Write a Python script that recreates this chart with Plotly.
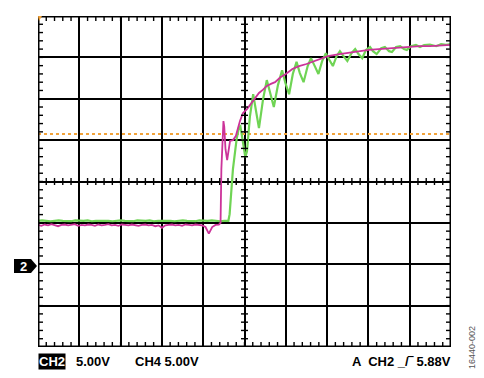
import numpy as np
import plotly.graph_objects as go

# ---- data (in screen divisions: x 0..10, y -4..4) ----
mag_flat_y = [-1.05,-1.07,-1.04,-1.06,-1.03,-1.06,-1.08,-1.05,-1.04,-1.06,
              -1.05,-1.03,-1.07,-1.05,-1.06,-1.04,-1.05,-1.07,-1.04,-1.06,
              -1.05,-1.03,-1.06,-1.05,-1.07,-1.04,-1.05,-1.06,-1.04,-1.05,
              -1.07,-1.05,-1.04,-1.06,-1.05,-1.08,-1.06,-1.12,-1.06,-1.05,
              -1.04,-1.06,-1.05,-1.07,-1.04,-1.05,-1.06,-1.04,-1.05,-1.06,
              -1.10,-1.26,-1.10,-1.05,-1.04]
mag_rise_x = [4.42,4.44,4.47,4.49,4.51,4.54,4.58,4.62,4.65,4.72,4.79,4.89,4.96,
              5.06,5.18,5.27,5.35,5.45,5.54,5.64,5.74,5.87,6.00,6.16,6.32,6.50,
              6.71,6.86,7.02,7.30,7.60,7.80,8.01,8.25,8.52,8.75,8.98,9.25,9.49,
              9.75,10.0]
mag_rise_y = [-1.00,0.30,1.15,1.46,1.32,0.78,0.52,0.78,0.98,1.00,1.10,1.46,1.65,
              1.75,1.92,2.02,2.14,2.22,2.31,2.36,2.40,2.52,2.60,2.72,2.79,2.84,
              2.91,2.96,3.03,3.08,3.13,3.15,3.18,3.20,3.22,3.24,3.25,3.27,3.27,
              3.29,3.30]

grn_flat_y = [-0.95,-0.94,-0.95,-0.96,-0.95,-0.94,-0.95,-0.95,-0.96,-0.94,
              -0.95,-0.95,-0.94,-0.96,-0.95,-0.95,-0.94,-0.95,-0.96,-0.95,
              -0.94,-0.95,-0.95,-0.96,-0.94,-0.95,-0.95,-0.94,-0.96,-0.95,
              -0.95,-0.94,-0.95,-0.96,-0.95,-0.94,-0.95,-0.95,-0.96,-0.94,
              -0.95,-0.95,-0.94,-0.95,-0.96,-0.95,-0.95]
grn_rise_x = [4.64,4.67,4.72,4.81,4.87,4.90,4.95,5.02,5.06,5.13,5.21,5.28,5.35,
              5.45,5.54,5.63,5.71,5.81,5.91,5.99,6.08,6.17,6.26,6.34,6.43,6.53,
              6.61,6.71,6.79,6.88,6.97,7.06,7.14,7.23,7.31,7.41,7.49,7.59,7.68,
              7.76,7.85,7.94,8.04,8.11,8.20,8.31,8.40,8.50,8.57,8.67,8.77,8.86,
              8.93,9.03,9.15,9.25,9.35,9.49,9.64,9.76,9.88,10.0]
grn_rise_y = [-0.79,-0.30,0.30,1.03,1.32,1.34,1.03,0.59,0.73,1.56,2.11,1.70,1.29,
              1.99,2.45,2.11,1.80,2.33,2.69,2.38,2.11,2.60,2.89,2.62,2.40,2.79,
              2.98,2.77,2.60,2.91,3.10,2.93,2.79,3.03,3.15,3.01,2.91,3.10,3.20,
              3.08,2.98,3.18,3.25,3.15,3.08,3.22,3.25,3.15,3.13,3.25,3.27,3.20,
              3.18,3.27,3.30,3.25,3.30,3.31,3.27,3.32,3.30,3.32]

trigger_level = 1.15

mag_x = list(np.linspace(0, 4.38, len(mag_flat_y))) + mag_rise_x
mag_y = mag_flat_y + mag_rise_y
grn_x = list(np.linspace(0, 4.61, len(grn_flat_y))) + grn_rise_x
grn_y = grn_flat_y + grn_rise_y

fig = go.Figure()
fig.add_trace(go.Scatter(x=[0, 10], y=[trigger_level, trigger_level], mode="lines",
                         line=dict(color="#f2a33a", width=2, dash="dot"),
                         hoverinfo="skip", showlegend=False))
fig.add_trace(go.Scatter(x=grn_x, y=grn_y, mode="lines",
                         line=dict(color="#6fd454", width=2.2),
                         showlegend=False))
fig.add_trace(go.Scatter(x=mag_x, y=mag_y, mode="lines",
                         line=dict(color="#cc3399", width=1.8),
                         showlegend=False))

# ---- graticule ticks ----
W, H = 413.0, 331.0
dxp = 10 / W   # div per pixel horizontally
dyp = 8 / H
tx, ty = [], []
L = 5
C = 3.5
for k in range(1, 50):
    xv = k * 0.2
    tx += [xv, xv, None, xv, xv, None, xv, xv, None]
    ty += [4, 4 - L * dyp, None, -4, -4 + L * dyp, None, -C * dyp, C * dyp, None]
for k in range(1, 40):
    yv = -4 + k * 0.2
    tx += [0, L * dxp, None, 10, 10 - L * dxp, None, 5 - C * dxp, 5 + C * dxp, None]
    ty += [yv, yv, None, yv, yv, None, yv, yv, None]
fig.add_trace(go.Scatter(x=tx, y=ty, mode="lines", line=dict(color="black", width=1.4),
                         hoverinfo="skip", showlegend=False))

def px(x):
    return (x - 38) / W

def py(y):
    return (347 - y) / H

shapes = [
    dict(type="rect", xref="x", yref="y", x0=0, x1=10, y0=-4, y1=4,
         line=dict(color="black", width=3), layer="above"),
    dict(type="path", xref="paper", yref="paper",
         path=f"M {px(14)},{py(259)} L {px(31)},{py(259)} L {px(37)},{py(266)} "
              f"L {px(31)},{py(273)} L {px(14)},{py(273)} Z",
         fillcolor="black", line=dict(width=0)),
    dict(type="path", xref="paper", yref="paper",
         path=f"M {px(38)},{py(16)} L {px(42)},{py(16)} L {px(39)},{py(21)} Z",
         fillcolor="#f2a33a", line=dict(width=0)),
]

fam = "Liberation Sans, Arial, sans-serif"
font = dict(family=fam, size=13, color="black")
base = dict(xref="paper", yref="paper", showarrow=False)
ann = [
    dict(x=px(23), y=py(266), text="<b>2</b>", font=dict(family=fam, size=13, color="white"),
         xanchor="center", yanchor="middle", **base),
    dict(x=px(38), y=py(361), text="<b>CH2</b>", font=dict(family=fam, size=13, color="white"),
         bgcolor="black", borderpad=0, xanchor="left", yanchor="middle", **base),
    dict(x=px(74), y=py(361), text="<b>5.00V</b>", font=font,
         xanchor="left", yanchor="middle", **base),
    dict(x=px(133), y=py(361), text="<b>CH4 5.00V</b>", font=font,
         xanchor="left", yanchor="middle", **base),
    dict(x=px(453), y=py(361), text="<b>A  CH2 _/‾ 5.88V</b>", font=font,
         xanchor="right", yanchor="middle", **base),
    dict(x=px(472), y=py(348), text="16440-002", textangle=-90,
         font=dict(family=fam, size=9, color="#555555"),
         xanchor="center", yanchor="middle", **base),
]

axis_common = dict(showgrid=True, gridcolor="black", gridwidth=1.6, zeroline=False,
                   showticklabels=False, ticks="", showline=False, dtick=1, fixedrange=True)
fig.update_layout(
    width=484, height=378,
    margin=dict(l=38, r=33, t=16, b=31),
    paper_bgcolor="white", plot_bgcolor="white",
    xaxis=dict(range=[0, 10], tick0=0, **axis_common),
    yaxis=dict(range=[-4, 4], tick0=-4, **axis_common),
    shapes=shapes, annotations=ann, showlegend=False,
)
fig.write_html("out.html", config=dict(displayModeBar=False),
               post_script="document.body.style.margin='0';")
